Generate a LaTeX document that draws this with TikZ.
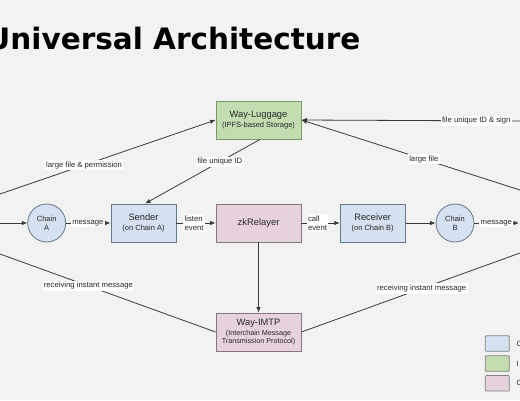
\documentclass[tikz,border=0pt]{standalone}
\usepackage{fontspec}
\setmainfont{Liberation Sans}
\newfontfamily\titlefont{DejaVu Sans}
\usetikzlibrary{arrows.meta}
\definecolor{bgc}{HTML}{F2F2F2}
\definecolor{bluef}{HTML}{D5E1F0}
\definecolor{blued}{HTML}{66788C}
\definecolor{greenf}{HTML}{C4DDB0}
\definecolor{greend}{HTML}{7A9868}
\definecolor{pinkf}{HTML}{E6D2DD}
\definecolor{pinkd}{HTML}{877580}
\definecolor{linec}{HTML}{3A3A3A}
\tikzset{
  boxbase/.style={draw, line width=0.8pt, minimum height=38pt, inner sep=0pt, align=center, text=black!85},
  bluebox/.style={boxbase, fill=bluef, draw=blued, minimum width=65pt},
  greenbox/.style={boxbase, fill=greenf, draw=greend, minimum width=85pt},
  pinkbox/.style={boxbase, fill=pinkf, draw=pinkd, minimum width=85pt},
  chain/.style={circle, draw=blued, fill=bluef, line width=0.8pt, minimum size=38pt, inner sep=0pt, align=center, font=\fontsize{7.5}{9}\selectfont, text=black!85},
  conn/.style={draw=linec, line width=0.8pt},
  arr/.style={conn, -{Latex[length=5.5pt,width=4.5pt]}},
  lbl/.style={fill=white, inner sep=1.5pt, font=\fontsize{7.7}{9.2}\selectfont, text=black!85, align=left},
  legbox/.style={draw=black!50, line width=0.8pt, rounded corners=1pt, minimum width=24pt, minimum height=15.5pt, inner sep=0pt},
  legtxt/.style={anchor=west, inner sep=0pt, font=\fontsize{7.5}{9}\selectfont, text=black!85}
}
\newcommand{\bigf}{\fontsize{9.3}{10.4}\selectfont}
\newcommand{\smallf}{\fontsize{7.5}{10.4}\selectfont}
\newcommand{\tinyf}{\fontsize{7.2}{8.1}\selectfont}
\begin{document}
\begin{tikzpicture}[x=1pt,y=-1pt]
\useasboundingbox (0,0) rectangle (520,400);
\fill[bgc] (0,0) rectangle (520,400);
\clip (0,0) rectangle (520,400);
% title
\node[anchor=base west, inner sep=0pt, font=\titlefont\bfseries\fontsize{29.5}{32}\selectfont] (title) at (-13.7,49) {Universal Architecture};
% boxes
\node[greenbox] (lug) at (258.5,120) {\bigf Way-Luggage\\[-1.6pt]\smallf (IPFS-based Storage)};
\node[bluebox] (snd) at (143.5,223) {\bigf Sender\\[-1.7pt]\smallf (on Chain A)};
\node[pinkbox, font=\fontsize{9.4}{11}\selectfont] (zk) at (258.5,223) {zkRelayer};
\node[bluebox] (rcv) at (372.7,223) {\bigf Receiver\\[-1.7pt]\smallf (on Chain B)};
\node[pinkbox, font=\tinyf] (imtp) at (258.5,332) {\bigf Way-IMTP\\[1.9pt]\tinyf (Interchain Message\\\tinyf Transmission Protocol)};
\node[chain] (ca) at (46.7,223) {Chain\\A};
\node[chain] (cb) at (455,223) {Chain\\B};
% free ends
\coordinate (inA) at (0,223);
\coordinate (outB) at (519,223);
\coordinate (lfp) at (0,194);
\coordinate (rimL) at (0,254);
\coordinate (rimR) at (520,253);
\coordinate (fis) at (520,121);
\coordinate (lfr) at (520,190);
% connectors
\draw[arr] (inA) -- (ca.west);
\draw[arr] (ca.east) -- node[lbl, pos=0.49] {message} (snd.west);
\draw[arr] (snd.east) -- node[lbl, pos=0.45] {listen\\event} (zk.west);
\draw[arr] (zk.east) -- node[lbl, pos=0.42] {call\\event} (rcv.west);
\draw[arr] (rcv.east) -- (cb.west);
\draw[arr] (cb.east) -- node[lbl, pos=0.49] {message} (outB);
\draw[arr] (zk.south) -- (imtp.north);
\draw[arr] (lfp) -- node[lbl, pos=0.39] {large file \& permission} (lug.west);
\draw[arr] ([xshift=1.5pt]lug.south) -- node[lbl, pos=0.35] {file unique ID} ([xshift=1.5pt]snd.north);
\draw[arr] (fis) -- node[lbl, pos=0.2] {file unique ID \& sign} (lug.east);
\draw[arr] (lfr) -- node[lbl, pos=0.44] {large file} (lug.east);
\draw[conn] (rimL) -- node[lbl, pos=0.41] {receiving instant message} (imtp.west);
\draw[conn] (imtp.east) -- node[lbl, pos=0.55] {receiving instant message} (rimR);
% legend
\node[legbox, fill=bluef] (lg1) at (497.3,343.5) {};
\node[legbox, fill=greenf] (lg2) at (497.3,363.5) {};
\node[legbox, fill=pinkf] (lg3) at (497.3,383.3) {};
\node[legtxt] (lt1) at (516.5,343.5) {C};
\node[legtxt] (lt2) at (516.5,363.5) {I};
\node[legtxt] (lt3) at (516.5,383.3) {C};
\end{tikzpicture}
\end{document}
